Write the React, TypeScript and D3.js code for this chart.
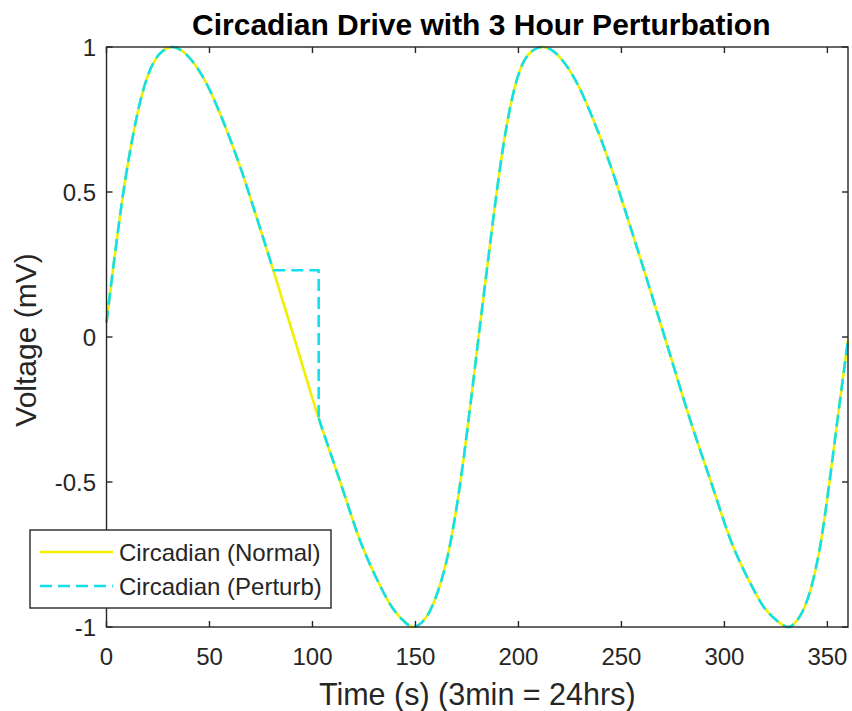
import React from 'react';
import * as d3 from 'd3';

// time (s) and voltage (mV)
const TIME = [
  0, 4, 8, 13, 17, 20, 24, 28, 32, 36, 41, 49, 56, 65, 73, 81, 91, 103, 113.5, 123,
  133, 138, 143, 149, 153, 157, 161, 165, 169, 173, 177, 181, 185, 189, 193, 197, 201, 205,
  211.5, 216, 221, 229, 236, 245, 253, 261, 271, 284, 293.5, 303, 313, 319, 325, 331, 335,
  339, 343, 347, 351, 355, 360,
];
const NORMAL = [
  0.05, 0.28, 0.49, 0.7, 0.83, 0.9, 0.96, 0.99, 1.0, 0.99, 0.957, 0.868, 0.755, 0.585, 0.41, 0.23, 0.0, -0.28, -0.5, -0.7,
  -0.86, -0.925, -0.97, -1.0, -0.985, -0.945, -0.875, -0.775, -0.63, -0.44, -0.215, 0.02, 0.25, 0.475, 0.675, 0.825, 0.925, 0.975,
  1.0, 0.99, 0.957, 0.868, 0.755, 0.585, 0.41, 0.23, 0.0, -0.3, -0.5, -0.7, -0.855, -0.93, -0.975, -1.0, -0.98,
  -0.93, -0.84, -0.7, -0.5, -0.28, -0.01,
];

// perturbed drive: held for 3 h (~22 s) at 81 s, then drops back onto the normal curve
const HOLD_START = 81;
const HOLD_END = 103;
const PERTURB_TIME = [
  0, 4, 8, 13, 17, 20, 24, 28, 32, 36, 41, 49, 56, 65, 73, 81, 103, 103, 113.5, 123,
  133, 138, 143, 149, 153, 157, 161, 165, 169, 173, 177, 181, 185, 189, 193, 197, 201, 205,
  211.5, 216, 221, 229, 236, 245, 253, 261, 271, 284, 293.5, 303, 313, 319, 325, 331, 335,
  339, 343, 347, 351, 355, 360,
];
const PERTURB = [
  0.05, 0.28, 0.49, 0.7, 0.83, 0.9, 0.96, 0.99, 1.0, 0.99, 0.957, 0.868, 0.755, 0.585, 0.41, 0.23, 0.23, -0.28, -0.5, -0.7,
  -0.86, -0.925, -0.97, -1.0, -0.985, -0.945, -0.875, -0.775, -0.63, -0.44, -0.215, 0.02, 0.25, 0.475, 0.675, 0.825, 0.925, 0.975,
  1.0, 0.99, 0.957, 0.868, 0.755, 0.585, 0.41, 0.23, 0.0, -0.3, -0.5, -0.7, -0.855, -0.93, -0.975, -1.0, -0.98,
  -0.93, -0.84, -0.7, -0.5, -0.28, -0.01,
];

const X_TICKS = [0, 50, 100, 150, 200, 250, 300, 350];
const Y_TICKS = [-1, -0.5, 0, 0.5, 1];
const LEGEND = ['Circadian (Normal)', 'Circadian (Perturb)'];

const W = 852;
const H = 711;
const PLOT = { left: 106.5, right: 848, top: 47, bottom: 627 };
const AXIS = '#262626';
const YELLOW = '#f0f000';
const CYAN = '#10e0ee';
const FONT = 'Arial, "Liberation Sans", Helvetica, sans-serif';

type Pt = [number, number];

export default function App() {
  const x = d3.scaleLinear().domain([0, 360]).range([PLOT.left, PLOT.right]);
  const y = d3.scaleLinear().domain([-1, 1]).range([PLOT.bottom, PLOT.top]);

  const smooth = d3
    .line<Pt>()
    .x((d) => x(d[0]))
    .y((d) => y(d[1]))
    .curve(d3.curveMonotoneX);
  const straight = d3
    .line<Pt>()
    .x((d) => x(d[0]))
    .y((d) => y(d[1]));

  const normalPts: Pt[] = TIME.map((t, i) => [t, NORMAL[i]]);
  const perturbPts: Pt[] = PERTURB_TIME.map((t, i) => [t, PERTURB[i]]);

  const normalPath = smooth(normalPts) ?? '';

  // the hold + drop is a step, so it is drawn straight; the rest follows the smooth curve
  const iStart = PERTURB_TIME.indexOf(HOLD_START);
  const iEnd = PERTURB_TIME.lastIndexOf(HOLD_END);
  const perturbPath =
    (smooth(perturbPts.slice(0, iStart + 1)) ?? '') +
    (straight(perturbPts.slice(iStart, iEnd + 1)) ?? '') +
    (smooth(perturbPts.slice(iEnd)) ?? '');

  const tickLen = 6;

  return (
    <svg
      width={W}
      height={H}
      viewBox={`0 0 ${W} ${H}`}
      style={{ position: 'absolute', left: 0, top: 0, background: '#fff' }}
      fontFamily={FONT}
    >
      <rect width={W} height={H} fill="#fff" />

      {/* Title */}
      <text x={(PLOT.left + PLOT.right) / 2 + 4} y={35} textAnchor="middle" fontSize={30} fontWeight="bold" fill="#000">
        Circadian Drive with 3 Hour Perturbation
      </text>

      {/* Series */}
      <path d={normalPath} fill="none" stroke={YELLOW} strokeWidth={2.6} strokeLinejoin="round" />
      <path d={perturbPath} fill="none" stroke={CYAN} strokeWidth={2.6} strokeDasharray="12,6" strokeLinejoin="round" />

      {/* Box */}
      <rect
        x={PLOT.left}
        y={PLOT.top}
        width={PLOT.right - PLOT.left}
        height={PLOT.bottom - PLOT.top}
        fill="none"
        stroke={AXIS}
        strokeWidth={1.4}
      />

      {/* X ticks */}
      {X_TICKS.map((t) => (
        <g key={t}>
          <line x1={x(t)} x2={x(t)} y1={PLOT.bottom} y2={PLOT.bottom - tickLen} stroke={AXIS} strokeWidth={1.4} />
          <line x1={x(t)} x2={x(t)} y1={PLOT.top} y2={PLOT.top + tickLen} stroke={AXIS} strokeWidth={1.4} />
          <text x={x(t)} y={665} textAnchor="middle" fontSize={24} fill={AXIS}>
            {t}
          </text>
        </g>
      ))}

      {/* Y ticks */}
      {Y_TICKS.map((t) => (
        <g key={t}>
          <line x1={PLOT.left} x2={PLOT.left + tickLen} y1={y(t)} y2={y(t)} stroke={AXIS} strokeWidth={1.4} />
          <line x1={PLOT.right} x2={PLOT.right - tickLen} y1={y(t)} y2={y(t)} stroke={AXIS} strokeWidth={1.4} />
          <text x={96} y={y(t) + 8.5} textAnchor="end" fontSize={24} fill={AXIS}>
            {String(t)}
          </text>
        </g>
      ))}

      {/* Axis titles */}
      <text x={(PLOT.left + PLOT.right) / 2} y={705} textAnchor="middle" fontSize={30.5} fill={AXIS}>
        Time (s) (3min = 24hrs)
      </text>
      <text
        transform={`translate(36,${(PLOT.top + PLOT.bottom) / 2 + 3}) rotate(-90)`}
        textAnchor="middle"
        fontSize={30}
        fill={AXIS}
      >
        Voltage (mV)
      </text>

      {/* Legend */}
      <g>
        <rect x={30} y={530} width={301} height={78} fill="#fff" stroke={AXIS} strokeWidth={1.4} />
        {LEGEND.map((label, i) => {
          const ly = 552 + i * 34;
          return (
            <g key={label}>
              <line
                x1={40}
                x2={113}
                y1={ly}
                y2={ly}
                stroke={i === 0 ? YELLOW : CYAN}
                strokeWidth={2.6}
                strokeDasharray={i === 0 ? undefined : '12,6'}
              />
              <text x={119} y={ly + 8.5} fontSize={24} fill={AXIS}>
                {label}
              </text>
            </g>
          );
        })}
      </g>
    </svg>
  );
}
